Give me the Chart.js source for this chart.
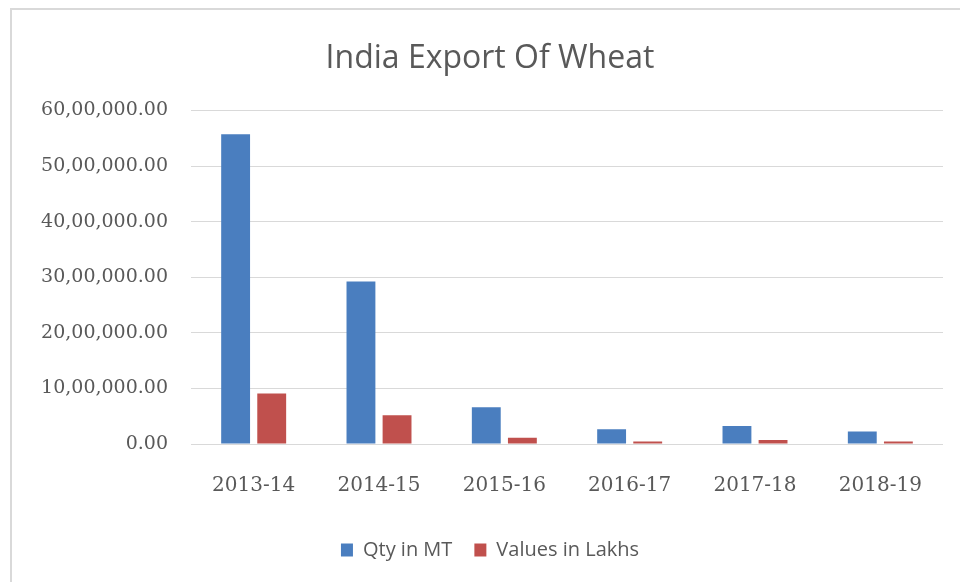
<!DOCTYPE html>
<html>
<head>
<meta charset="utf-8">
<script src="https://cdn.jsdelivr.net/npm/chart.js@4"></script>
<style>
  html, body { margin: 0; padding: 0; background: #fff; }
  #frame { position: absolute; left: 10px; top: 8px; width: 960px; height: 600px;
           border-top: 2px solid #d9d9d9; border-left: 2px solid #d9d9d9; }
  #wrap { position: absolute; left: 0; top: 0; width: 960px; height: 582px; }
</style>
</head>
<body>
<div id="frame"></div>
<div id="wrap"><canvas id="barChart" width="960" height="582"></canvas></div>
<script>
// Data
const years = ["2013-14", "2014-15", "2015-16", "2016-17", "2017-18", "2018-19"];
const qtyMT = [5572000, 2924000, 660000, 265000, 322000, 226000];
const valueLakhs = [910000, 518000, 113000, 45000, 72000, 43000];

// Indian digit grouping, e.g. 60,00,000.00
function indianFormat(v) {
  const s = Math.round(v).toString();
  let last3 = s.slice(-3);
  let rest = s.slice(0, -3);
  if (rest) last3 = "," + last3;
  rest = rest.replace(/\B(?=(\d{2})+(?!\d))/g, ",");
  return rest + last3 + ".00";
}

const ctx = document.getElementById("barChart").getContext("2d");
window.barChartInstance = new Chart(ctx, {
  type: "bar",
  data: {
    labels: years,
    datasets: [{
      label: "Qty in MT",
      data: qtyMT,
      backgroundColor: "#4a7ebf"
    }, {
      label: "Values in Lakhs",
      data: valueLakhs,
      backgroundColor: "#c0504d"
    }]
  },
  options: {
    responsive: false,
    animation: false,
    categoryPercentage: 0.576,
    barPercentage: 0.8,
    layout: { padding: { left: 37, right: 17, top: 0, bottom: 12 } },
    plugins: {
      title: {
        display: true,
        text: "India Export Of Wheat",
        color: "#595959",
        font: { family: "'Open Sans'", size: 32, weight: "normal" },
        padding: { top: 40, bottom: 32 }
      },
      legend: {
        position: "bottom",
        labels: {
          color: "#595959",
          font: { family: "'Open Sans'", size: 20 },
          boxWidth: 12,
          boxHeight: 13,
          padding: 22
        }
      },
      tooltip: { enabled: false }
    },
    scales: {
      x: {
        grid: { display: false },
        border: { display: false },
        ticks: { color: "#595959", font: { family: "'DejaVu Serif'", size: 20 }, padding: 22 },
        afterFit: function(scale) { scale.height = 74; }
      },
      y: {
        min: 0,
        max: 6000000,
        grid: { color: "#d9d9d9", drawTicks: false },
        border: { display: false },
        ticks: {
          stepSize: 1000000,
          color: "#595959",
          font: { family: "'DejaVu Serif'", size: 19 },
          padding: 23,
          callback: function(value) { return indianFormat(value); }
        },
        afterFit: function(scale) { scale.width = 154; }
      }
    }
  }
});
</script>
</body>
</html>
